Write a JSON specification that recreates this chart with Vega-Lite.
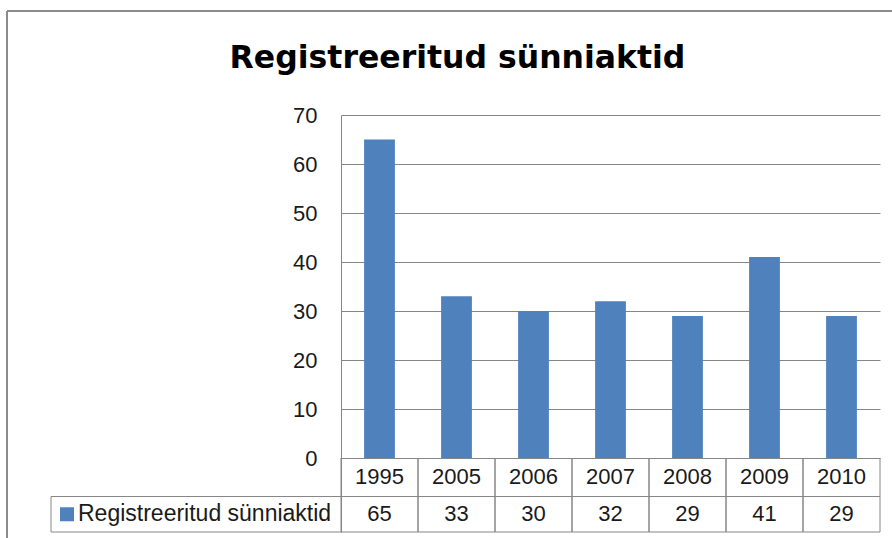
{
  "$schema": "https://vega.github.io/schema/vega-lite/v6.json",
  "width": 539,
  "height": 417,
  "autosize": {"type": "none"},
  "padding": {"left": 341, "top": 115, "right": 12, "bottom": 6},
  "background": "white",
  "config": {"view": {"stroke": null}},
  "title": {
    "text": "Registreeritud sünniaktid",
    "font": "DejaVu Sans",
    "fontSize": 31.5,
    "fontWeight": "bold",
    "color": "#000000",
    "anchor": "middle",
    "frame": "group",
    "baseline": "alphabetic",
    "offset": 0,
    "dx": -153,
    "dy": 89
  },
  "data": {
    "values": [
      {"year": "1995", "value": 65},
      {"year": "2005", "value": 33},
      {"year": "2006", "value": 30},
      {"year": "2007", "value": 32},
      {"year": "2008", "value": 29},
      {"year": "2009", "value": 41},
      {"year": "2010", "value": 29}
    ]
  },
  "encoding": {
    "x": {"field": "year", "type": "ordinal", "axis": null, "scale": {"paddingInner": 0, "paddingOuter": 0}}
  },
  "layer": [
    {
      "mark": {"type": "bar", "width": {"band": 0.4}, "color": "#4F81BD"},
      "encoding": {
        "y": {
          "field": "value",
          "type": "quantitative",
          "scale": {"domain": [-15.1, 70], "nice": false, "zero": false},
          "axis": {
            "title": null,
            "values": [0, 10, 20, 30, 40, 50, 60, 70],
            "grid": true,
            "gridColor": "#868686",
            "gridWidth": 1,
            "ticks": false,
            "domainColor": "#868686",
            "domainWidth": 1,
            "labelFont": "Liberation Sans",
            "labelFontSize": 22,
            "labelColor": "#1a1a1a",
            "labelPadding": 24
          }
        }
      }
    },
    {
      "mark": {"type": "rule", "color": "#868686", "strokeWidth": 1},
      "encoding": {
        "x": {"field": "year", "type": "ordinal", "bandPosition": 0},
        "y": {"datum": 0},
        "y2": {"datum": -15.1}
      }
    },
    {
      "mark": {"type": "rule", "color": "#868686", "strokeWidth": 1},
      "encoding": {
        "x": {"field": "year", "type": "ordinal", "bandPosition": 1},
        "y": {"datum": 0},
        "y2": {"datum": -15.1}
      }
    },
    {
      "transform": [{"filter": "datum.year === '1995'"}],
      "layer": [
        {
          "mark": {"type": "rule", "color": "#868686", "strokeWidth": 1, "xOffset": -290},
          "encoding": {
            "x": {"datum": "1995", "type": "ordinal", "bandPosition": 0},
            "x2": {"datum": "2010", "bandPosition": 1},
            "y": {"datum": -7.86}
          }
        },
        {
          "mark": {"type": "rule", "color": "#868686", "strokeWidth": 1, "xOffset": -290},
          "encoding": {
            "x": {"datum": "1995", "type": "ordinal", "bandPosition": 0},
            "x2": {"datum": "2010", "bandPosition": 1},
            "y": {"datum": -15.1}
          }
        },
        {
          "mark": {"type": "rule", "color": "#868686", "strokeWidth": 1, "xOffset": -290},
          "encoding": {
            "x": {"datum": "1995", "type": "ordinal", "bandPosition": 0},
            "y": {"datum": -7.86},
            "y2": {"datum": -15.1}
          }
        },
        {
          "mark": {"type": "rule", "color": "#8c8c8c", "strokeWidth": 2, "xOffset": -334, "x2Offset": 20},
          "encoding": {
            "x": {"datum": "1995", "type": "ordinal", "bandPosition": 0},
            "x2": {"datum": "2010", "bandPosition": 1},
            "y": {"datum": 91.22}
          }
        },
        {
          "mark": {"type": "rule", "color": "#8c8c8c", "strokeWidth": 2, "xOffset": -334, "y2Offset": 10},
          "encoding": {
            "x": {"datum": "1995", "type": "ordinal", "bandPosition": 0},
            "y": {"datum": 91.22},
            "y2": {"datum": -15.1}
          }
        },
        {
          "mark": {"type": "point", "shape": "square", "filled": true, "opacity": 1, "size": 196, "color": "#4F81BD", "xOffset": -274},
          "encoding": {
            "x": {"datum": "1995", "type": "ordinal", "bandPosition": 0},
            "y": {"datum": -11.48}
          }
        },
        {
          "mark": {"type": "text", "text": "Registreeritud sünniaktid", "align": "left", "baseline": "middle", "font": "Liberation Sans", "fontSize": 23, "color": "#1a1a1a", "xOffset": -263},
          "encoding": {
            "x": {"datum": "1995", "type": "ordinal", "bandPosition": 0},
            "y": {"datum": -11.48}
          }
        }
      ]
    },
    {
      "mark": {"type": "text", "align": "center", "baseline": "middle", "font": "Liberation Sans", "fontSize": 22, "color": "#1a1a1a"},
      "encoding": {
        "y": {"datum": -3.88},
        "text": {"field": "year"}
      }
    },
    {
      "mark": {"type": "text", "align": "center", "baseline": "middle", "font": "Liberation Sans", "fontSize": 22, "color": "#1a1a1a"},
      "encoding": {
        "y": {"datum": -11.48},
        "text": {"field": "value"}
      }
    }
  ]
}
